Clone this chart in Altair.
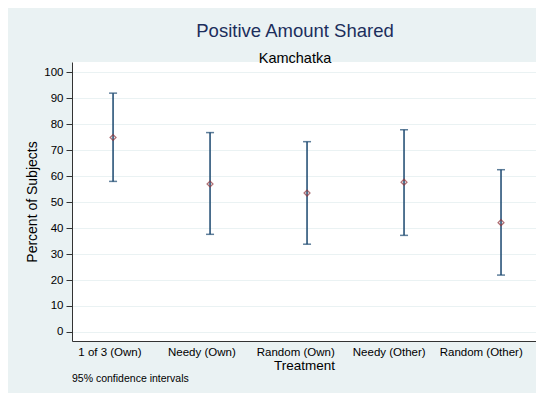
import altair as alt
import pandas as pd

treatments = ["1 of 3 (Own)", "Needy (Own)", "Random (Own)", "Needy (Other)", "Random (Other)"]
means = [74.9, 57.0, 53.5, 57.7, 42.1]
lower = [58.0, 37.6, 33.8, 37.2, 21.9]
upper = [92.0, 76.8, 73.3, 77.9, 62.5]
y_ticks = [0, 10, 20, 30, 40, 50, 60, 70, 80, 90, 100]

df = pd.DataFrame({"treatment": treatments, "mean": means, "lo": lower, "hi": upper})

FONT = "Liberation Sans"
BG = "#EAF2F3"
NAVY = "#1A476F"
RED = "#90353B"

# horizontal label shifts (style only), as in the original layout
label_shift = [-3.6, -8.7, -11.8, -15.3, -20.3]
label_offset = {
    "condition": [{"test": f"datum.value == '{t}'", "value": s}
                  for t, s in zip(treatments, label_shift)],
    "value": 0,
}

xscale = alt.Scale(type="point", padding=0.392, align=0.54, domain=treatments)
yscale = alt.Scale(domain=[-3.5, 104], nice=False, zero=False)

xaxis = alt.Axis(title="Treatment", labelAngle=0, ticks=False, grid=False,
                 labelFontSize=11.5, labelPadding=5, titleFontSize=13.5,
                 titleFontWeight="normal", titlePadding=1, labelOffset=label_offset,
                 domainColor="#333333", labelColor="#000000", titleColor="#000000")
yaxis = alt.Axis(title="Percent of Subjects", values=y_ticks, tickSize=6,
                 tickColor="#333333", domainColor="#333333",
                 gridColor=BG, gridWidth=1, labelFontSize=11.5, labelPadding=3,
                 titleFontSize=14, titleFontWeight="normal", titlePadding=4,
                 labelColor="#000000", titleColor="#000000")

def X():
    return alt.X("treatment:N", scale=xscale, sort=treatments, axis=xaxis)

def Y(field):
    return alt.Y(field, scale=yscale, axis=yaxis)

base = alt.Chart(df)

rules = base.mark_rule(color=NAVY, strokeWidth=1.5).encode(
    x=X(), y=Y("lo:Q"), y2="hi:Q",
)
caps_lo = base.mark_tick(color=NAVY, thickness=1.5, size=8, orient="horizontal").encode(
    x=X(), y=Y("lo:Q"),
)
caps_hi = base.mark_tick(color=NAVY, thickness=1.5, size=8, orient="horizontal").encode(
    x=X(), y=Y("hi:Q"),
)
pts = base.mark_point(shape="diamond", filled=False, color=RED, size=34, strokeWidth=1.3).encode(
    x=X(), y=Y("mean:Q"),
)
note = alt.Chart(pd.DataFrame({"t": ["95% confidence intervals"]})).mark_text(
    align="left", baseline="middle", font=FONT, fontSize=10.5, color="#000000"
).encode(text="t:N", x=alt.value(0), y=alt.value(317))

chart = alt.layer(rules, caps_lo, caps_hi, pts, note).properties(
    width=464, height=279,
    background=BG,
    autosize=alt.AutoSizeParams(type="none"),
    padding={"left": 64, "top": 54, "right": 0, "bottom": 52},
    title=alt.TitleParams(text="Positive Amount Shared", subtitle="Kamchatka",
                          fontSize=18.5, subtitleFontSize=14.5, font=FONT, subtitleFont=FONT,
                          fontWeight="normal", color="#1C2E5C", subtitleColor="#000000",
                          anchor="middle", dx=-9, offset=-3, subtitlePadding=11),
).configure_view(fill="white", stroke=None).configure_axis(
    labelFont=FONT, titleFont=FONT
)

chart.save("out.html", embed_options={"renderer": "svg", "actions": False})
